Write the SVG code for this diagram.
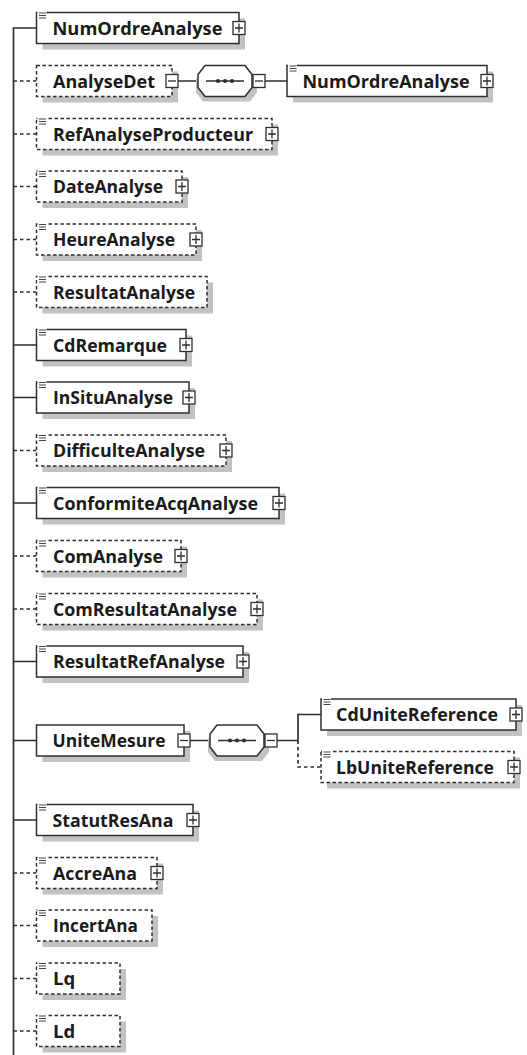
<svg xmlns="http://www.w3.org/2000/svg" width="527" height="1055" viewBox="0 0 527 1055">
<style>
.sh{fill:#c2c2c2}
.bx{fill:#fff;stroke:#2e2e2e;stroke-width:1.5}
.opt{stroke-dasharray:3.5 2.5}
.t{font-family:"Open Sans","Liberation Sans",sans-serif;font-weight:700;font-size:18.5px;fill:#1a1a1a}
.ln{stroke:#2e2e2e;stroke-width:1.7;fill:none}
.dl{stroke-dasharray:3.5 3}
.ic{stroke:#444;stroke-width:1.2}
</style>
<defs>
<g id="plus"><rect x="-6" y="-6.5" width="12" height="13" fill="#fff" stroke="#2e2e2e" stroke-width="1.3"/><path d="M-4 0H4M0-4.5V4.5" stroke="#2e2e2e" stroke-width="1.3"/></g>
<g id="minus"><rect x="-6" y="-6.5" width="12" height="13" fill="#fff" stroke="#2e2e2e" stroke-width="1.3"/><path d="M-4 0H4" stroke="#2e2e2e" stroke-width="1.3"/></g>
<g id="icon"><rect x="1" y="-1.5" width="9" height="9" fill="#fff"/><path class="ic" d="M2.5 0.5H9.5M2.5 3H9.5M2.5 5.5H9.5"/></g>
<g id="seq"><path d="M5 5L52 5L59 14L59 27L52 36L5 36L-2 27L-2 14Z" fill="#c2c2c2"/><path d="M7 0L47 0L54 9L54 22L47 31L7 31L0 22L0 9Z" fill="#fff" stroke="#2e2e2e" stroke-width="1.5"/><path d="M8 15.5H46" stroke="#2e2e2e" stroke-width="1.4"/><circle cx="20" cy="15.5" r="2.1" fill="#2e2e2e"/><circle cx="27" cy="15.5" r="2.1" fill="#2e2e2e"/><circle cx="34" cy="15.5" r="2.1" fill="#2e2e2e"/></g>
</defs>
<g id="connectors">
<path class="ln" d="M36.5 28H13.5V1055"/>
<path class="ln dl" d="M13.5 81H36.5M13.5 134H36.5M13.5 186.5H36.5M13.5 239.5H36.5M13.5 292H36.5M13.5 450.5H36.5M13.5 556H36.5M13.5 609H36.5M13.5 873H36.5M13.5 925.5H36.5M13.5 978.5H36.5M13.5 1031H36.5"/>
<path class="ln" d="M13.5 345H36.5M13.5 397.5H36.5M13.5 503H36.5M13.5 661.5H36.5M13.5 740.5H36.5M13.5 820H36.5"/>
<path class="ln" d="M178 81H198M265 81H287"/>
<path class="ln" d="M190 740.5H210M277 740.5H298M298 740.5V714.5H321"/>
<path class="ln dl" d="M298 740.5V767H321"/>
</g>
<g id="n-NumOrdreAnalyse"><rect class="sh" x="42.5" y="18.5" width="202.5" height="31"/><rect class="bx" x="36.5" y="12.5" width="202.5" height="31"/><use href="#icon" x="36.5" y="12.5"/><text class="t" x="52.5" y="34.5" textLength="170" lengthAdjust="spacingAndGlyphs">NumOrdreAnalyse</text><use href="#plus" x="239" y="28"/></g>
<g id="n-AnalyseDet"><rect class="sh" x="42.5" y="71.5" width="135.5" height="31"/><rect class="bx opt" x="36.5" y="65.5" width="135.5" height="31"/><text class="t" x="53" y="87.5" textLength="102" lengthAdjust="spacingAndGlyphs">AnalyseDet</text><use href="#minus" x="172" y="81"/></g>
<g id="n-seq1"><use href="#seq" x="198" y="65.5"/><use href="#minus" x="259" y="81"/></g>
<g id="n-NumOrdreAnalyse2"><rect class="sh" x="293" y="71.5" width="200" height="31"/><rect class="bx" x="287" y="65.5" width="200" height="31"/><use href="#icon" x="287" y="65.5"/><text class="t" x="302.5" y="87.5" textLength="167" lengthAdjust="spacingAndGlyphs">NumOrdreAnalyse</text><use href="#plus" x="487" y="81"/></g>
<g id="n-RefAnalyseProducteur"><rect class="sh" x="42.5" y="124.5" width="235.5" height="31"/><rect class="bx opt" x="36.5" y="118.5" width="235.5" height="31"/><use href="#icon" x="36.5" y="118.5"/><text class="t" x="53" y="140.5" textLength="200" lengthAdjust="spacingAndGlyphs">RefAnalyseProducteur</text><use href="#plus" x="272" y="134"/></g>
<g id="n-DateAnalyse"><rect class="sh" x="42.5" y="177" width="145.5" height="31"/><rect class="bx opt" x="36.5" y="171" width="145.5" height="31"/><use href="#icon" x="36.5" y="171"/><text class="t" x="53" y="193" textLength="110" lengthAdjust="spacingAndGlyphs">DateAnalyse</text><use href="#plus" x="182" y="186.5"/></g>
<g id="n-HeureAnalyse"><rect class="sh" x="42.5" y="230" width="159.5" height="31"/><rect class="bx opt" x="36.5" y="224" width="159.5" height="31"/><use href="#icon" x="36.5" y="224"/><text class="t" x="53" y="246" textLength="122" lengthAdjust="spacingAndGlyphs">HeureAnalyse</text><use href="#plus" x="196" y="239.5"/></g>
<g id="n-ResultatAnalyse"><rect class="sh" x="42.5" y="282.5" width="170.5" height="31"/><rect class="bx opt" x="36.5" y="276.5" width="170.5" height="31"/><use href="#icon" x="36.5" y="276.5"/><text class="t" x="53" y="298.5" textLength="142" lengthAdjust="spacingAndGlyphs">ResultatAnalyse</text></g>
<g id="n-CdRemarque"><rect class="sh" x="42.5" y="335.5" width="149.5" height="31"/><rect class="bx" x="36.5" y="329.5" width="149.5" height="31"/><use href="#icon" x="36.5" y="329.5"/><text class="t" x="53" y="351.5" textLength="114" lengthAdjust="spacingAndGlyphs">CdRemarque</text><use href="#plus" x="186" y="345"/></g>
<g id="n-InSituAnalyse"><rect class="sh" x="42.5" y="388" width="152.5" height="31"/><rect class="bx" x="36.5" y="382" width="152.5" height="31"/><use href="#icon" x="36.5" y="382"/><text class="t" x="53" y="404" textLength="120" lengthAdjust="spacingAndGlyphs">InSituAnalyse</text><use href="#plus" x="189" y="397.5"/></g>
<g id="n-DifficulteAnalyse"><rect class="sh" x="42.5" y="441" width="189.5" height="31"/><rect class="bx opt" x="36.5" y="435" width="189.5" height="31"/><use href="#icon" x="36.5" y="435"/><text class="t" x="53" y="457" textLength="152" lengthAdjust="spacingAndGlyphs">DifficulteAnalyse</text><use href="#plus" x="226" y="450.5"/></g>
<g id="n-ConformiteAcqAnalyse"><rect class="sh" x="42.5" y="493.5" width="242.5" height="31"/><rect class="bx" x="36.5" y="487.5" width="242.5" height="31"/><use href="#icon" x="36.5" y="487.5"/><text class="t" x="53" y="509.5" textLength="205" lengthAdjust="spacingAndGlyphs">ConformiteAcqAnalyse</text><use href="#plus" x="279" y="503"/></g>
<g id="n-ComAnalyse"><rect class="sh" x="42.5" y="546.5" width="144.5" height="31"/><rect class="bx opt" x="36.5" y="540.5" width="144.5" height="31"/><use href="#icon" x="36.5" y="540.5"/><text class="t" x="53" y="562.5" textLength="110" lengthAdjust="spacingAndGlyphs">ComAnalyse</text><use href="#plus" x="181" y="556"/></g>
<g id="n-ComResultatAnalyse"><rect class="sh" x="42.5" y="599.5" width="220.5" height="31"/><rect class="bx opt" x="36.5" y="593.5" width="220.5" height="31"/><use href="#icon" x="36.5" y="593.5"/><text class="t" x="53" y="615.5" textLength="184" lengthAdjust="spacingAndGlyphs">ComResultatAnalyse</text><use href="#plus" x="257" y="609"/></g>
<g id="n-ResultatRefAnalyse"><rect class="sh" x="42.5" y="652" width="206.5" height="31"/><rect class="bx" x="36.5" y="646" width="206.5" height="31"/><use href="#icon" x="36.5" y="646"/><text class="t" x="53" y="668" textLength="172" lengthAdjust="spacingAndGlyphs">ResultatRefAnalyse</text><use href="#plus" x="243" y="661.5"/></g>
<g id="n-UniteMesure"><rect class="sh" x="42.5" y="731" width="147.5" height="31"/><rect class="bx" x="36.5" y="725" width="147.5" height="31"/><text class="t" x="52.5" y="747" textLength="113" lengthAdjust="spacingAndGlyphs">UniteMesure</text><use href="#minus" x="184" y="740.5"/></g>
<g id="n-seq2"><use href="#seq" x="210" y="725"/><use href="#minus" x="271" y="740.5"/></g>
<g id="n-CdUniteReference"><rect class="sh" x="327" y="705" width="195" height="31"/><rect class="bx" x="321" y="699" width="195" height="31"/><use href="#icon" x="321" y="699"/><text class="t" x="336" y="721" textLength="162" lengthAdjust="spacingAndGlyphs">CdUniteReference</text><use href="#plus" x="516" y="714.5"/></g>
<g id="n-LbUniteReference"><rect class="sh" x="327" y="757.5" width="193" height="31"/><rect class="bx opt" x="321" y="751.5" width="193" height="31"/><use href="#icon" x="321" y="751.5"/><text class="t" x="336" y="773.5" textLength="158" lengthAdjust="spacingAndGlyphs">LbUniteReference</text><use href="#plus" x="514" y="767"/></g>
<g id="n-StatutResAna"><rect class="sh" x="42.5" y="810.5" width="156.5" height="31"/><rect class="bx" x="36.5" y="804.5" width="156.5" height="31"/><use href="#icon" x="36.5" y="804.5"/><text class="t" x="52.5" y="826.5" textLength="121" lengthAdjust="spacingAndGlyphs">StatutResAna</text><use href="#plus" x="193" y="820"/></g>
<g id="n-AccreAna"><rect class="sh" x="42.5" y="863.5" width="120.5" height="31"/><rect class="bx opt" x="36.5" y="857.5" width="120.5" height="31"/><use href="#icon" x="36.5" y="857.5"/><text class="t" x="53" y="879.5" textLength="84" lengthAdjust="spacingAndGlyphs">AccreAna</text><use href="#plus" x="157" y="873"/></g>
<g id="n-IncertAna"><rect class="sh" x="42.5" y="916" width="115.5" height="31"/><rect class="bx opt" x="36.5" y="910" width="115.5" height="31"/><use href="#icon" x="36.5" y="910"/><text class="t" x="53" y="932" textLength="85" lengthAdjust="spacingAndGlyphs">IncertAna</text></g>
<g id="n-Lq"><rect class="sh" x="42.5" y="969" width="83.5" height="31"/><rect class="bx opt" x="36.5" y="963" width="83.5" height="31"/><use href="#icon" x="36.5" y="963"/><text class="t" x="53" y="985">Lq</text></g>
<g id="n-Ld"><rect class="sh" x="42.5" y="1021.5" width="83.5" height="31"/><rect class="bx opt" x="36.5" y="1015.5" width="83.5" height="31"/><use href="#icon" x="36.5" y="1015.5"/><text class="t" x="53" y="1037.5">Ld</text></g>
</svg>
